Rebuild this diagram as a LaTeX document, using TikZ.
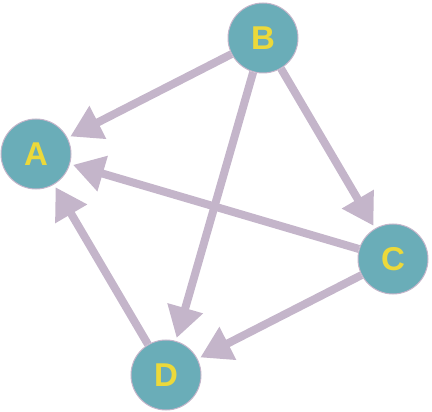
\documentclass[tikz,border=0pt]{standalone}
\usepackage{fontspec}
\setmainfont{Liberation Sans}
\usetikzlibrary{arrows.meta}
\definecolor{teal}{HTML}{6AADB8}
\definecolor{edgec}{HTML}{C4B5CA}
\definecolor{labc}{HTML}{ECD93A}
\begin{document}
\begin{tikzpicture}[x=1pt,y=-1pt,
  vtx/.style={circle,fill=teal,draw=edgec,line width=1pt,minimum size=70pt,inner sep=0pt,
    text=labc,font=\fontsize{33}{33}\selectfont\bfseries},
  arr/.style={draw=edgec,line width=8pt,-{Triangle[length=31pt,width=35pt]},shorten >=3pt}]
\useasboundingbox (0,0) rectangle (432,412);
\node[vtx] (B) at (263,38) {B};
\node[vtx] (A) at (36,154) {A};
\node[vtx] (C) at (393,259) {C};
\node[vtx] (D) at (166,375) {D};
\begin{scope}[on background layer/.try]
\end{scope}
\draw[arr] (B) -- (A);
\draw[arr] (B) -- (C);
\draw[arr] (B) -- (D);
\draw[arr] (C) -- (A);
\draw[arr] (C) -- (D);
\draw[arr] (D) -- (A);
\end{tikzpicture}
\end{document}
